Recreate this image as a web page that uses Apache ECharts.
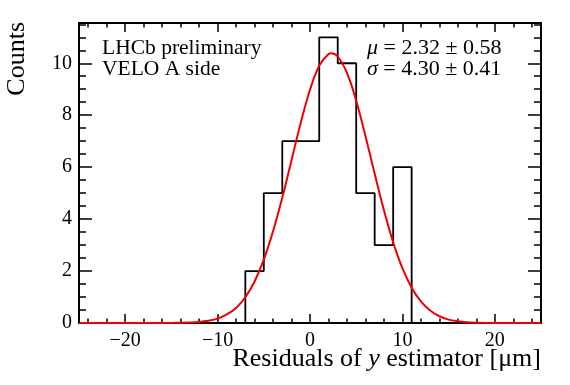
<!DOCTYPE html>
<html>
<head>
<meta charset="utf-8">
<script src="https://cdn.jsdelivr.net/npm/echarts@6/dist/echarts.min.js"></script>
<style>
  html, body { margin: 0; padding: 0; background: #fff; }
  #main { width: 570px; height: 385px; }
</style>
</head>
<body>
<div id="main"></div>
<script>
// histogram: bin edges and counts
var binEdges = [-7, -5, -3, -1, 1, 3, 5, 7, 9, 11]
var counts = [2, 5, 7, 7, 11, 10, 5, 3, 6]

// gaussian fit curve
var fitX = [-25, -20, -18, -16, -15, -14, -13, -12, -11, -10, -9, -8, -7, -6, -5, -4, -3, -2, -1, 0, 1, 2, 2.32, 3, 4, 5, 6, 7, 8, 9, 10, 11, 12, 13, 14, 15, 16, 17, 18, 20, 25]
var fitY = [0, 0, 0, 0.001, 0.003, 0.008, 0.018, 0.04, 0.086, 0.17, 0.33, 0.58, 0.99, 1.6, 2.44, 3.53, 4.83, 6.27, 7.71, 8.98, 9.91, 10.36, 10.39, 10.26, 9.63, 8.56, 7.2, 5.75, 4.34, 3.11, 2.11, 1.36, 0.83, 0.48, 0.26, 0.13, 0.066, 0.031, 0.013, 0.002, 0]

// ticks
var xMajor = [-20, -10, 0, 10, 20]
var xMinor = [-24, -22, -18, -16, -14, -12, -8, -6, -4, -2, 2, 4, 6, 8, 12, 14, 16, 18, 22, 24]
var yMajor = [0, 2, 4, 6, 8, 10]
var yMinor = [0.5, 1, 1.5, 2.5, 3, 3.5, 4.5, 5, 5.5, 6.5, 7, 7.5, 8.5, 9, 9.5, 10.5, 11, 11.5]

var font = 'Liberation Serif'

var histData = [[binEdges[0], 0]]
for (var i = 0; i < counts.length; i++) {
    histData.push([binEdges[i], counts[i]])
}
histData.push([binEdges[binEdges.length - 1], 0])

var fitData = fitX.map(function (x, i) { return [x, fitY[i]] })

function minusSign(v) {
    return String(v).replace('-', '\u2212')
}

function xAx(pos, ticks, len, main) {
    return {
        type: 'value', min: -25, max: 25, position: pos,
        axisLine: {show: main, onZero: false, lineStyle: {color: '#000', width: 2}},
        axisTick: {inside: true, length: len, customValues: ticks, lineStyle: {color: '#000', width: 1.5}},
        axisLabel: {show: main && pos === 'bottom', customValues: xMajor, formatter: minusSign,
            fontFamily: font, fontSize: 20, color: '#000', margin: 8},
        splitLine: {show: false}
    }
}

function yAx(pos, ticks, len, main) {
    return {
        type: 'value', min: 0, max: 11.55, position: pos,
        axisLine: {show: main, onZero: false, lineStyle: {color: '#000', width: 2}},
        axisTick: {inside: true, length: len, customValues: ticks, lineStyle: {color: '#000', width: 1.5}},
        axisLabel: {show: main && pos === 'left', customValues: yMajor,
            fontFamily: font, fontSize: 20, color: '#000', margin: 7},
        splitLine: {show: false}
    }
}

var chart = echarts.init(document.getElementById('main'))
chart.setOption({
    animation: false,
    backgroundColor: '#fff',
    grid: {left: 79, right: 29, top: 23, bottom: 62, outerBoundsMode: 'none'},
    xAxis: [
        xAx('bottom', xMajor, 9, true),
        xAx('bottom', xMinor, 4.5, false),
        xAx('top', xMajor, 9, true),
        xAx('top', xMinor, 4.5, false)
    ],
    yAxis: [
        yAx('left', yMajor, 13, true),
        yAx('left', yMinor, 7, false),
        yAx('right', yMajor, 13, true),
        yAx('right', yMinor, 7, false)
    ],
    graphic: [
        {
            type: 'text', x: 17, y: 22, rotation: Math.PI / 2,
            style: {text: 'Counts', font: '26px "Liberation Serif"', fill: '#000', align: 'right', verticalAlign: 'middle'}
        },
        {
            type: 'text', x: 541, y: 359,
            style: {
                text: 'Residuals of {i|y} estimator [\u03bcm]',
                font: '26px "Liberation Serif"', fill: '#000', align: 'right', verticalAlign: 'middle',
                rich: {i: {fontFamily: font, fontSize: 26, fontStyle: 'italic', fill: '#000'}}
            }
        },
        {
            type: 'text', x: 102, y: 38,
            style: {text: 'LHCb preliminary\nVELO A side', font: '21.5px "Liberation Serif"', lineHeight: 21, fill: '#000'}
        },
        {
            type: 'text', x: 367, y: 38,
            style: {
                text: '{i|\u03bc} = 2.32 \u00b1 0.58\n{i|\u03c3} = 4.30 \u00b1 0.41',
                font: '22px "Liberation Serif"', lineHeight: 21, fill: '#000',
                rich: {i: {fontFamily: font, fontSize: 22, fontStyle: 'italic', fill: '#000', lineHeight: 21}}
            }
        }
    ],
    series: [
        {
            name: 'data', type: 'line', step: 'end', data: histData,
            symbol: 'none', lineStyle: {color: '#000', width: 1.8}, z: 3
        },
        {
            name: 'fit', type: 'line', smooth: 0.4, data: fitData,
            symbol: 'none', lineStyle: {color: '#ee0000', width: 2}, z: 4
        }
    ]
})
</script>
</body>
</html>
